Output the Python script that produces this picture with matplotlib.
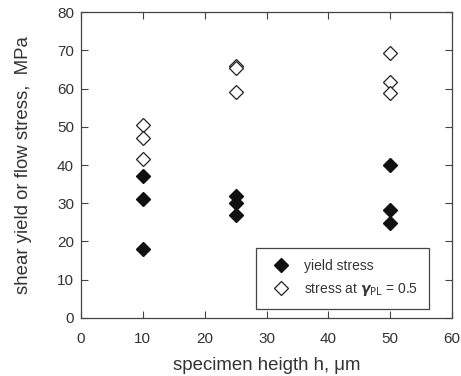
import matplotlib.pyplot as plt

plt.rcParams['font.family'] = ['Liberation Sans', 'DejaVu Sans']

# datos
h_yield = [10, 10, 10, 25, 25, 25, 50, 50, 50]
yield_stress = [37, 31, 18, 32, 30, 27, 40, 28.3, 24.8]
h_flow = [10, 10, 10, 25, 25, 25, 50, 50, 50]
flow_stress = [50.5, 47, 41.5, 66, 65.3, 59, 69.2, 61.8, 58.7]

fig = plt.figure(figsize=(4.61, 3.76), dpi=100)
ax = fig.add_axes([0.1757, 0.1543, 0.805, 0.8137])

ax.plot(h_yield, yield_stress, 'D', color='#111111', markersize=7,
        linestyle='none', label='yield stress')
ax.plot(h_flow, flow_stress, 'D', markerfacecolor='white', markeredgecolor='#222222',
        markeredgewidth=0.9, markersize=7, linestyle='none',
        label=r'stress at $\boldsymbol{\gamma}_{\rm PL}$ = 0.5')

ax.set_xlim(0, 60)
ax.set_ylim(0, 80)
ax.set_xticks(range(0, 61, 10))
ax.set_yticks(range(0, 81, 10))
ax.tick_params(direction='in', top=True, right=True, length=5, width=0.8,
               labelsize=11, labelcolor='#333333', color='#444444')
ax.tick_params(axis='x', pad=10)
ax.tick_params(axis='y', pad=5)
for s in ax.spines.values():
    s.set_color('#444444')
    s.set_linewidth(0.9)

ax.set_xlabel('specimen heigth h, μm', fontsize=13.4, color='#333333', labelpad=8)
ax.set_ylabel('shear yield or flow stress,  MPa', fontsize=13.4, color='#333333', labelpad=18)

leg = ax.legend(loc='lower right', bbox_to_anchor=(0.938, 0.029), borderaxespad=0,
                fontsize=10, fancybox=False, edgecolor='#444444', framealpha=1,
                borderpad=0.8, handletextpad=0.65, labelspacing=0.6)
leg.get_frame().set_linewidth(0.9)
for t in leg.get_texts():
    t.set_color('#333333')

plt.savefig('out.png', dpi=100)
